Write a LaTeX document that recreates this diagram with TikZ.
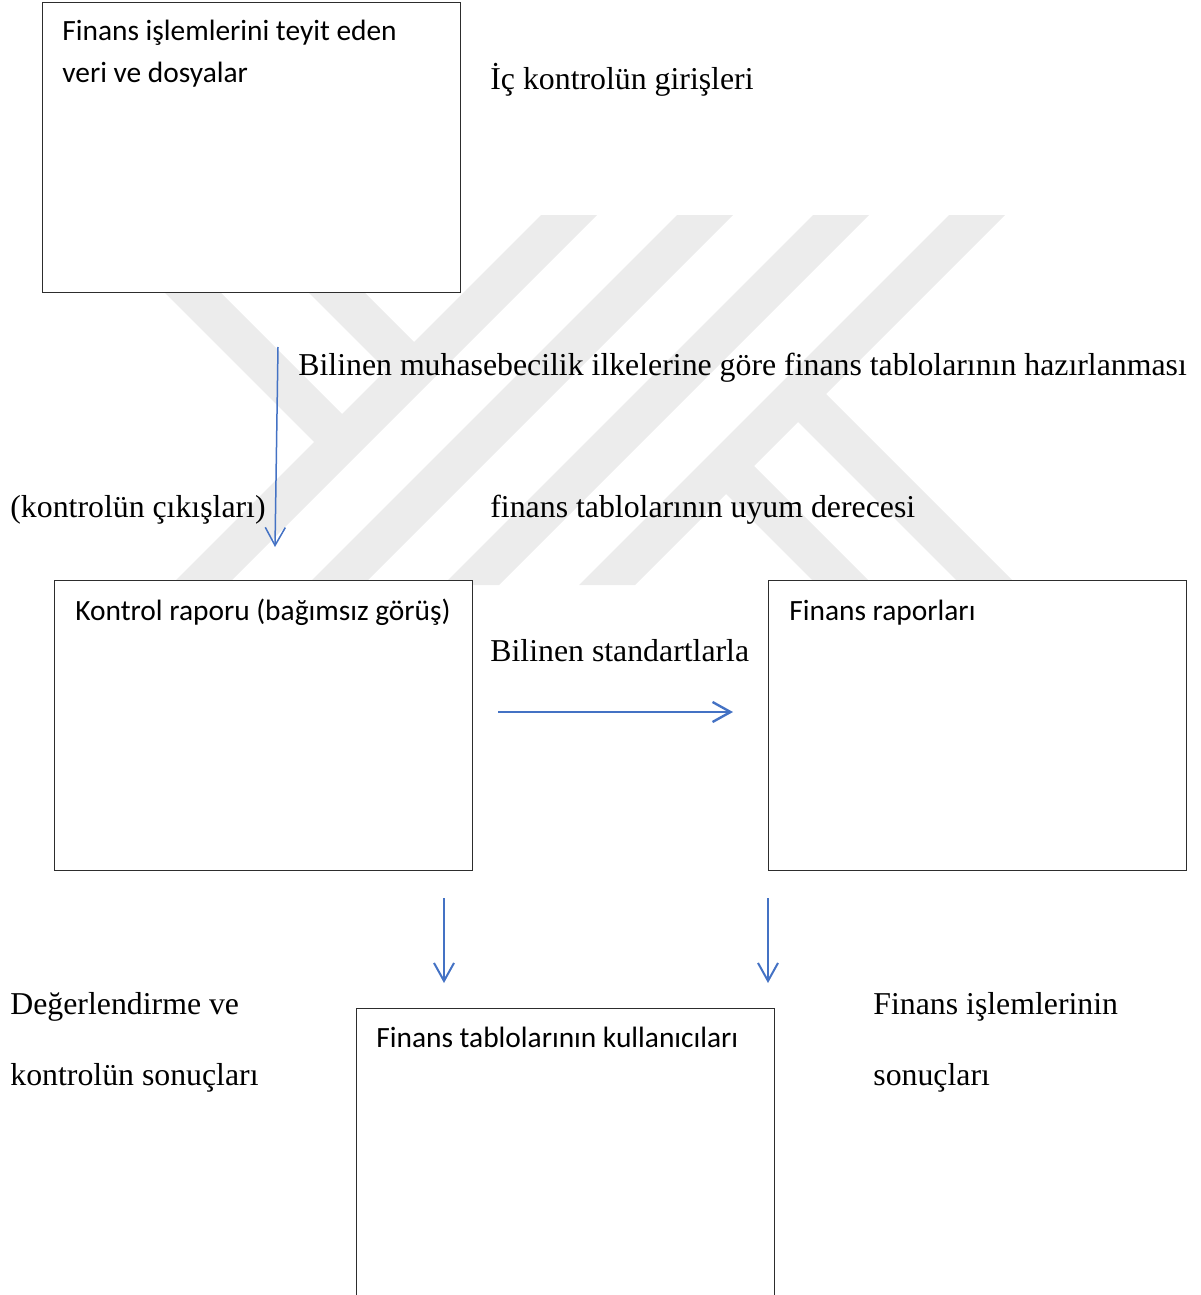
\documentclass[tikz,border=0pt]{standalone}
\usepackage{fontspec}
\setmainfont{Liberation Serif}
\newfontfamily\boxfont{Carlito}
\usetikzlibrary{arrows.meta}
\definecolor{wmgray}{RGB}{236,236,236}
\definecolor{flowblue}{RGB}{68,114,196}
\definecolor{framegray}{RGB}{45,45,45}

\begin{document}
\begin{tikzpicture}[x=0.5pt,y=-0.5pt,
  box/.style={draw=framegray, line width=0.7pt, fill=white, rectangle,
              inner sep=0pt, anchor=north west},
  boxtext/.style={font=\boxfont\fontsize{14.7}{17}\selectfont, anchor=base west, inner sep=0pt},
  plain/.style={font=\fontsize{15.9}{19}\selectfont, anchor=base west, inner sep=0pt},
  flow/.style={draw=flowblue, -{Straight Barb[length=9pt,width=10pt]}},
]
\useasboundingbox (0,0) rectangle (1200,1295);
\clip (0,0) rectangle (1200,1295);

% background emblem: diagonal bands
\fill[wmgray] (541,215) -- (597,215) -- (227,585) -- (171,585) -- cycle;
\fill[wmgray] (677,215) -- (733,215) -- (363,585) -- (307,585) -- cycle;
\fill[wmgray] (813,215) -- (869,215) -- (499,585) -- (443,585) -- cycle;
\fill[wmgray] (949,215) -- (1005,215) -- (635,585) -- (579,585) -- cycle;
\fill[wmgray] (87,215) -- (143,215) -- (359,431) -- (331,459) -- cycle;
\fill[wmgray] (231,215) -- (287,215) -- (431,359) -- (403,387) -- cycle;
\fill[wmgray] (711,479) -- (739,451) -- (873,585) -- (817,585) -- cycle;
\fill[wmgray] (783,407) -- (811,379) -- (1017,585) -- (961,585) -- cycle;

% boxes
\node[box, minimum width=209pt, minimum height=145pt] (src) at (42,2) {};
\node[box, minimum width=209pt, minimum height=145pt] (report) at (54,580) {};
\node[box, minimum width=209pt, minimum height=145pt] (finrep) at (768,580) {};
\node[box, minimum width=209pt, minimum height=200pt] (users) at (356,1008) {};

% box titles
\node[boxtext] (srcA) at (62,41) {Finans işlemlerini teyit eden};
\node[boxtext] (srcB) at (62,83) {veri ve dosyalar};
\node[boxtext] (reportT) at (75,620) {Kontrol raporu (bağımsız görüş)};
\node[boxtext] (finrepT) at (789,620) {Finans raporları};
\node[boxtext] (usersT) at (376,1047) {Finans tablolarının kullanıcıları};

% free labels
\node[plain] (inputs) at (490,90) {İç kontrolün girişleri};
\node[plain] (prep) at (298,375) {Bilinen muhasebecilik ilkelerine göre finans tablolarının hazırlanması};
\node[plain] (outputs) at (10,517) {(kontrolün çıkışları)};
\node[plain] (fit) at (490,517) {finans tablolarının uyum derecesi};
\node[plain] (std) at (490,661) {Bilinen standartlarla};
\node[plain] (evalA) at (10,1014) {Değerlendirme ve};
\node[plain] (evalB) at (10,1085) {kontrolün sonuçları};
\node[plain] (resA) at (873,1014) {Finans işlemlerinin};
\node[plain] (resB) at (873,1085) {sonuçları};

% arrows
\coordinate (prepTop) at (278,347);
\coordinate (prepEnd) at (275,547);
\coordinate (stdStart) at (498,712);
\coordinate (stdEnd) at (733,712);
\coordinate (leftTop) at (444,898);
\coordinate (leftEnd) at (444,983);
\coordinate (rightTop) at (768,898);
\coordinate (rightEnd) at (768,983);

\draw[flow, line width=0.75pt] (prepTop) -- (prepEnd);
\draw[flow, line width=1.2pt] (stdStart) -- (stdEnd);
\draw[flow, line width=1pt] (leftTop) -- (leftEnd);
\draw[flow, line width=1pt] (rightTop) -- (rightEnd);
\end{tikzpicture}
\end{document}
